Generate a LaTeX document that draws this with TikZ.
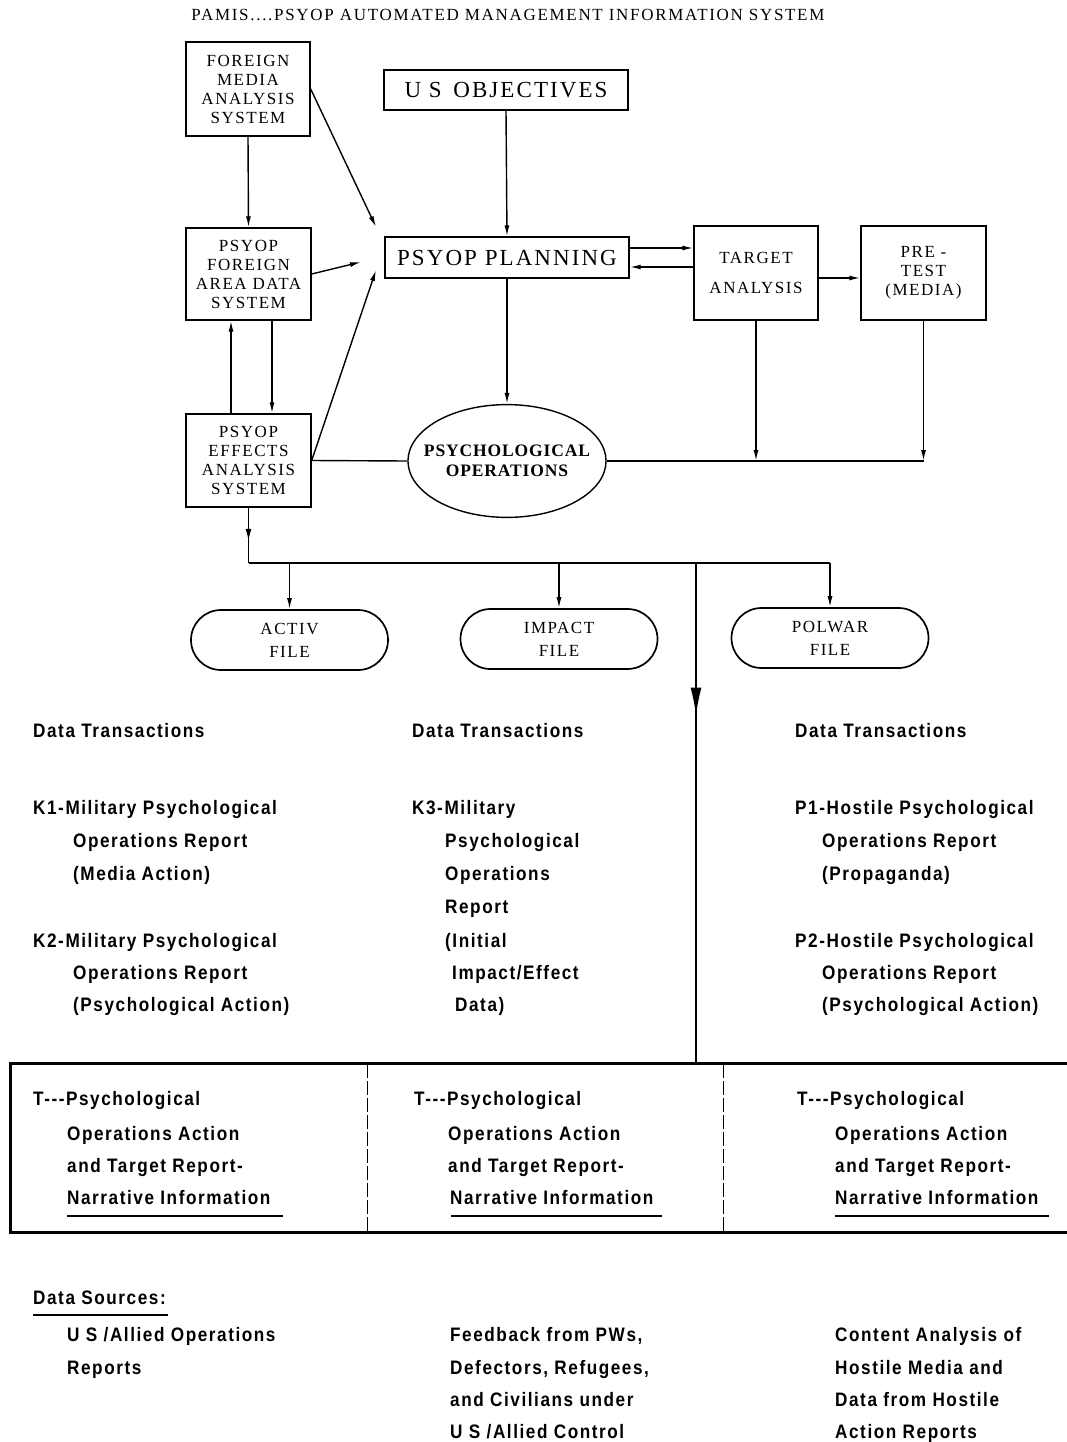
\documentclass[tikz,border=0pt]{standalone}
\usepackage{fontspec}
\setmainfont{Liberation Serif}
\newfontfamily\capsf[LetterSpace=9]{Liberation Serif}
\newfontfamily\titlef[LetterSpace=10]{Liberation Serif}
\newfontfamily\boldsf[LetterSpace=5]{Liberation Serif}
\newfontfamily\cond[FakeStretch=0.88,LetterSpace=8]{Liberation Sans}
\usetikzlibrary{arrows.meta,shapes.geometric,shapes.misc,decorations.markings,calc}
\begin{document}
\begin{tikzpicture}[x=1pt,y=-1pt,
  ln/.style={line width=1.4pt},
  arr/.style={ln,-{Latex[length=11pt,width=5pt]}},
  box/.style={draw,ln,inner sep=0pt,align=center,font=\capsf\fontsize{17}{19}\selectfont},
  bigbox/.style={draw,ln,inner sep=0pt,align=center,font=\capsf\fontsize{23}{25}\selectfont},
  filebox/.style={draw,line width=1.7pt,shape=rounded rectangle,minimum width=197pt,minimum height=60pt,inner sep=0pt,align=center,font=\capsf\fontsize{17}{23}\selectfont},
  txt/.style={anchor=base west,inner sep=0pt,font=\cond\bfseries\fontsize{19.5}{21}\selectfont},
  midarrow/.style={ln,postaction={decorate},decoration={markings,mark=at position 0.6 with {\arrow{Latex[length=12pt,width=6pt]}}}},
  bigarrow/.style={ln,postaction={decorate},decoration={markings,mark=at position 0.305 with {\arrow{Latex[length=28pt,width=11pt]}}}}
]
\useasboundingbox (0,0) rectangle (1067,1442);
\fill[white] (0,0) rectangle (1067,1442);

% title
\node[inner sep=0pt,font=\titlef\fontsize{17}{19}\selectfont] (title) at (508,15) {PAMIS....PSYOP AUTOMATED MANAGEMENT INFORMATION SYSTEM};

% boxes
\node[box,minimum width=124pt,minimum height=94pt] (FMAS) at (248,89) {FOREIGN\\MEDIA\\ANALYSIS\\SYSTEM};
\node[bigbox,minimum width=244pt,minimum height=40pt] (US) at (506,90) {U S\, OBJECTIVES};
\node[bigbox,minimum width=244pt,minimum height=41pt] (Plan) at (507,257.5) {PSYOP PLANNING};
\node[box,minimum width=125pt,minimum height=92pt] (PFADS) at (248.5,274) {PSYOP\\FOREIGN\\AREA DATA\\SYSTEM};
\node[box,minimum width=124pt,minimum height=94pt,font=\capsf\fontsize{17}{30}\selectfont] (TA) at (756,273) {TARGET\\ANALYSIS};
\node[box,minimum width=125pt,minimum height=94pt] (PT) at (923.5,273) {PRE -\\TEST\\(MEDIA)};
\node[box,minimum width=125pt,minimum height=93pt] (PEAS) at (248.5,460.5) {PSYOP\\EFFECTS\\ANALYSIS\\SYSTEM};
\node[draw,ln,ellipse,inner xsep=-13pt,inner ysep=24pt,align=center,font=\boldsf\bfseries\fontsize{17.5}{20}\selectfont] (PSY) at (507,461) {PSYCHOLOGICAL\\OPERATIONS};

% files
\node[filebox] (ACT) at (289.5,640) {ACTIV\\FILE};
\node[filebox] (IMP) at (559,639) {IMPACT\\FILE};
\node[filebox] (POL) at (830,638) {POLWAR\\FILE};

% free ends
\coordinate (p1) at (376,227);
\coordinate (p2) at (361,262);
\coordinate (p3) at (376,270);

% connectors
\draw[arr] (FMAS.east) -- (p1);
\draw[arr] (FMAS.south) -- (PFADS.north);
\draw[arr] (PFADS.east) -- (p2);
\draw[arr] (PEAS.east) -- (p3);
\draw[arr] (US.south) -- (Plan.north);
\draw[arr] (Plan.south) -- (PSY.north);
\coordinate (u1) at ([xshift=-17.5pt]PEAS.north);
\coordinate (d1) at ([xshift=23.5pt]PFADS.south);
\draw[arr] (u1) -- (u1 |- PFADS.south);
\draw[arr] (d1) -- (d1 |- PEAS.north);
\coordinate (a1) at ([yshift=9.5pt]Plan.east);
\coordinate (a2) at ([yshift=-9.5pt]Plan.east);
\draw[arr] (a1) -- (a1 -| TA.west);
\draw[arr] (a2 -| TA.west) -- (a2);
\coordinate (a3) at ([yshift=-5pt]TA.east);
\draw[arr] (a3) -- (a3 -| PT.west);
\draw[ln] (PEAS.east) -- (PSY.west);
\draw[ln] (PSY.east) -- (PT.south |- PSY.east);
\draw[arr] (TA.south) -- (TA.south |- PSY.east);
\draw[arr] (PT.south) -- (PT.south |- PSY.east);

% bus
\coordinate (b0) at (248.5,563);
\coordinate (b4) at (696,563);
\coordinate (tt) at (696,1063);
\draw[midarrow] (PEAS.south) -- (b0);
\draw[ln] (b0) -- (b0 -| POL.north);
\draw[arr] (b0 -| ACT.north) -- (ACT.north);
\draw[arr] (b0 -| IMP.north) -- (IMP.north);
\draw[arr] (b0 -| POL.north) -- (POL.north);
\draw[bigarrow] (b4) -- (tt);

% table frame
\draw[line width=3pt] (1070,1063) -- (10,1063) -- (10,1232) -- (1070,1232);
\draw[line width=0.8pt,dash pattern=on 14pt off 3pt] (367,1064) -- (367,1231);
\draw[line width=0.8pt,dash pattern=on 14pt off 3pt] (723,1064) -- (723,1231);
\draw[line width=1.6pt] (67,1216) -- (283,1216);
\draw[line width=1.6pt] (451,1216) -- (662,1216);
\draw[line width=1.6pt] (835,1216) -- (1049,1216);
\draw[line width=1.6pt] (33,1315) -- (168,1315);

% column 1
\node[txt] (t1) at (33,737) {Data Transactions};
\node[txt] (t2) at (33,814) {K1-Military Psychological};
\node[txt] (t3) at (73,847) {Operations Report};
\node[txt] (t4) at (73,880) {(Media Action)};
\node[txt] (t5) at (33,947) {K2-Military Psychological};
\node[txt] (t6) at (73,979) {Operations Report};
\node[txt] (t7) at (73,1011) {(Psychological Action)};
% column 2
\node[txt] (m1) at (412,737) {Data Transactions};
\node[txt] (m2) at (412,814) {K3-Military};
\node[txt] (m3) at (445,847) {Psychological};
\node[txt] (m4) at (445,880) {Operations};
\node[txt] (m5) at (445,913) {Report};
\node[txt] (m6) at (445,947) {(Initial};
\node[txt] (m7) at (452,979) {Impact/Effect};
\node[txt] (m8) at (455,1011) {Data)};
% column 3
\node[txt] (r1) at (795,737) {Data Transactions};
\node[txt] (r2) at (795,814) {P1-Hostile Psychological};
\node[txt] (r3) at (822,847) {Operations Report};
\node[txt] (r4) at (822,880) {(Propaganda)};
\node[txt] (r5) at (795,947) {P2-Hostile Psychological};
\node[txt] (r6) at (822,979) {Operations Report};
\node[txt] (r7) at (822,1011) {(Psychological Action)};

% table texts
\node[txt] (x1) at (33,1105) {T---Psychological};
\node[txt] (x2) at (67,1140) {Operations Action};
\node[txt] (x3) at (67,1172) {and Target Report-};
\node[txt] (x4) at (67,1204) {Narrative Information};
\node[txt] (y1) at (414,1105) {T---Psychological};
\node[txt] (y2) at (448,1140) {Operations Action};
\node[txt] (y3) at (448,1172) {and Target Report-};
\node[txt] (y4) at (450,1204) {Narrative Information};
\node[txt] (z1) at (797,1105) {T---Psychological};
\node[txt] (z2) at (835,1140) {Operations Action};
\node[txt] (z3) at (835,1172) {and Target Report-};
\node[txt] (z4) at (835,1204) {Narrative Information};

% data sources
\node[txt] (s0) at (33,1304) {Data Sources:};
\node[txt] (s1) at (67,1341) {U S /Allied Operations};
\node[txt] (s2) at (67,1374) {Reports};
\node[txt] (s3) at (450,1341) {Feedback from PWs,};
\node[txt] (s4) at (450,1374) {Defectors, Refugees,};
\node[txt] (s5) at (450,1406) {and Civilians under};
\node[txt] (s6) at (450,1438) {U S /Allied Control};
\node[txt] (s7) at (835,1341) {Content Analysis of};
\node[txt] (s8) at (835,1374) {Hostile Media and};
\node[txt] (s9) at (835,1406) {Data from Hostile};
\node[txt] (s10) at (835,1438) {Action Reports};
\end{tikzpicture}
\end{document}
